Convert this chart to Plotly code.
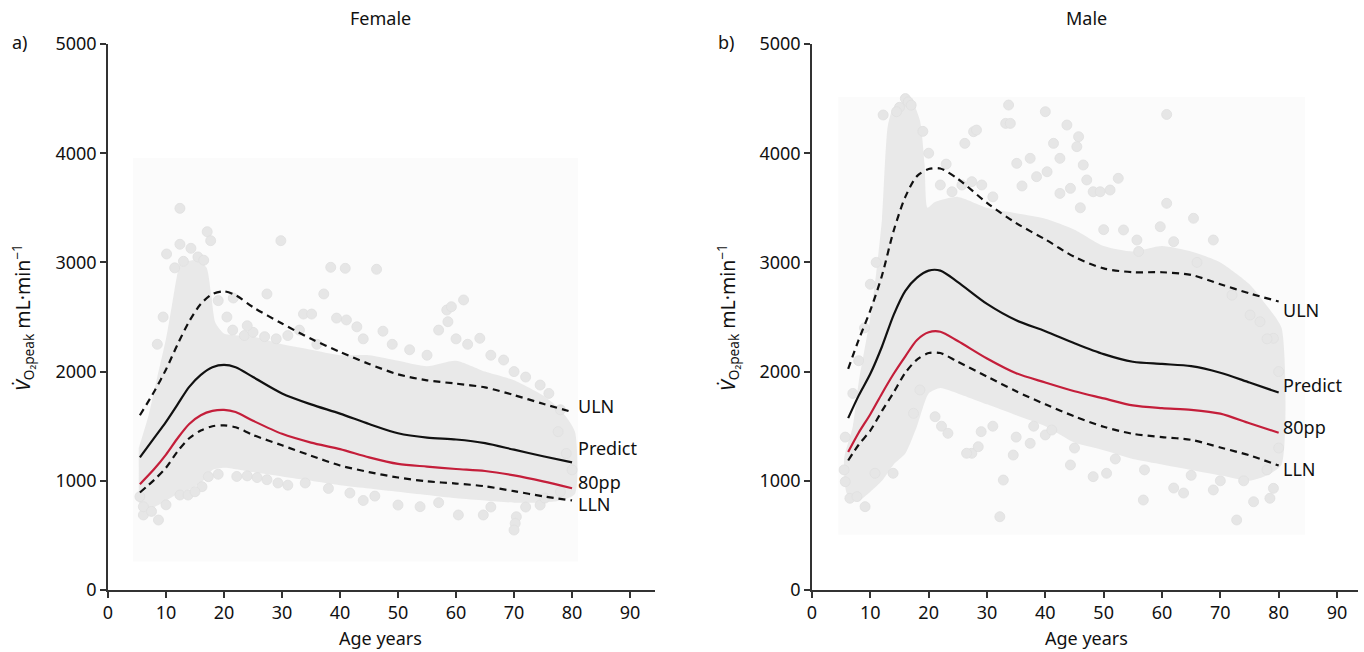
import plotly.graph_objects as go

# ---------------- reference curves ----------------
f_age = [5.5, 8, 10, 12, 14, 16, 18, 20, 22, 25, 30, 35, 40, 45, 50, 55, 60, 65, 70, 75, 80]
f_predict = [1215, 1395, 1540, 1700, 1860, 1970, 2040, 2062, 2040, 1950, 1800, 1700, 1615, 1520, 1435, 1395, 1378, 1345, 1285, 1225, 1168]
f_uln = [1600, 1820, 2020, 2250, 2460, 2620, 2710, 2735, 2700, 2590, 2440, 2300, 2180, 2070, 1975, 1920, 1890, 1855, 1785, 1705, 1630]
f_80pp = [969, 1110, 1240, 1390, 1520, 1600, 1640, 1650, 1630, 1550, 1430, 1350, 1290, 1215, 1155, 1130, 1108, 1090, 1050, 995, 932]
f_lln = [893, 1010, 1120, 1270, 1390, 1460, 1500, 1508, 1490, 1420, 1325, 1230, 1140, 1080, 1030, 995, 975, 950, 905, 858, 820]

m_age = [6.2, 8, 10, 12, 14, 16, 18, 20, 22, 25, 30, 35, 40, 45, 50, 55, 60, 65, 70, 75, 80]
m_predict = [1574, 1780, 1980, 2230, 2520, 2740, 2860, 2925, 2925, 2820, 2620, 2470, 2370, 2260, 2160, 2090, 2070, 2050, 1990, 1900, 1808]
m_uln = [2025, 2290, 2560, 2880, 3290, 3600, 3790, 3855, 3860, 3765, 3545, 3360, 3210, 3050, 2945, 2910, 2910, 2885, 2800, 2716, 2642]
m_80pp = [1264, 1440, 1610, 1800, 1980, 2140, 2290, 2360, 2365, 2280, 2120, 1985, 1900, 1820, 1755, 1690, 1665, 1650, 1615, 1527, 1440]
m_lln = [1186, 1330, 1460, 1640, 1810, 1990, 2110, 2170, 2170, 2090, 1955, 1820, 1700, 1590, 1495, 1430, 1400, 1375, 1305, 1233, 1140]

# ---------------- dense core of the measurements (outline) ----------------
f_core_age = [5.3, 7, 8.5, 10, 11, 11.8, 12.5, 15.5, 17, 17.8, 18.5, 20, 25, 30, 35, 40, 45, 50, 55, 60, 65, 70, 75, 78, 80.5,
              80.5, 78, 75, 70, 65, 60, 55, 50, 45, 40, 35, 30, 25, 20, 18, 16, 14, 12, 10, 8, 6, 5.3]
f_core_val = [1300, 1600, 1950, 2300, 2600, 2850, 2990, 3020, 2950, 2700, 2450, 2350, 2320, 2250, 2200, 2150, 2150, 2100, 2050, 2100, 2000, 1920, 1780, 1650, 1450,
              880, 820, 800, 800, 820, 840, 870, 900, 930, 960, 1000, 1040, 1080, 1120, 1100, 980, 920, 880, 820, 760, 730, 800]

m_core_age = [5.5, 7, 8, 10, 11, 12, 12.5, 13, 14, 17, 18.5, 19.3, 19.8, 21, 25, 30, 35, 40, 45, 50, 55, 60, 65, 70, 75, 78, 80.5,
              80.5, 78, 75, 70, 65, 60, 55, 50, 45, 40, 35, 30, 25, 22, 20, 18, 16, 14, 12, 10, 8, 6, 5.5]
m_core_val = [1200, 1500, 1900, 2500, 2900, 3400, 3900, 4250, 4420, 4480, 4300, 3900, 3500, 3550, 3600, 3500, 3450, 3400, 3300, 3150, 3100, 3150, 3100, 3000, 2800, 2600, 2400,
              1150, 1050, 1000, 1050, 1100, 1150, 1200, 1280, 1350, 1500, 1600, 1700, 1800, 1850, 1800, 1500, 1250, 1150, 1000, 900, 820, 880, 1200]

# ---------------- individual measurements outside the core ----------------
f_pt_age = [12.4, 17.1, 17.7, 12.4, 10.1, 14.3, 29.8, 38.4, 40.9, 46.3, 37.2, 27.4, 33.7, 35.1, 21.6, 39.4, 41.1, 42.9, 47.4,
            58.4, 59.2, 58.6, 61.3, 64.1, 68.2, 74.5, 77.6, 70.4, 70.2, 70.0, 64.7, 60.4, 50.0, 41.7, 53.8, 74.5, 75.3,
            6.1, 8.7, 6.1, 5.5, 12.4, 13.8, 16.2, 17.3, 22.2, 24.0, 25.7, 27.4, 29.3, 31.0, 21.5, 23.5, 25.0, 27.0, 29.0,
            11.5, 13.0, 15.5, 16.5, 9.5, 8.5, 19.0, 20.5, 24.0, 31.0, 33.0, 36.0, 44.0, 49.0, 52.0, 55.0, 57.0, 60.0, 62.0,
            66.0, 70.0, 72.0, 76.0, 78.0, 79.0, 80.0, 78.0, 72.0, 66.0, 57.0, 46.0, 38.0, 34.0, 19.0, 15.0, 10.0, 7.5, 44.0]
f_pt_val = [3495, 3281, 3199, 3166, 3077, 3129, 3199, 2955, 2946, 2937, 2711, 2711, 2527, 2527, 2674, 2490, 2473, 2410, 2370,
            2564, 2594, 2457, 2656, 2305, 2106, 1877, 1450, 671, 610, 549, 687, 687, 778, 888, 763, 778, 842,
            687, 641, 763, 855, 870, 870, 946, 1038, 1040, 1045, 1030, 1010, 980, 960, 2380, 2330, 2360, 2320, 2300,
            2950, 3010, 3050, 3020, 2500, 2250, 2650, 2500, 2420, 2330, 2380, 2250, 2300, 2250, 2200, 2150, 2380, 2300, 2250,
            2150, 2000, 1950, 1800, 1650, 1250, 1100, 900, 760, 760, 800, 860, 930, 980, 1060, 900, 780, 720, 820]

m_pt_age = [12.2, 16.0, 16.5, 17.0, 15.0, 14.5, 33.7, 40.0, 60.8, 33.2, 34.0, 43.7, 45.7, 27.7, 28.2, 26.2, 41.4, 45.4,
            46.5, 52.5, 42.5, 37.4, 35.1, 47.1, 51.1, 48.2, 49.4, 44.3, 38.5, 40.3, 42.5, 25.7, 27.4, 29.1, 22.0, 24.0,
            59.7, 53.4, 55.7, 60.8, 65.4, 68.8, 62.0, 76.8, 79.1, 75.1, 72.8, 56.8, 75.7, 78.5, 44.3, 48.2, 50.5, 62.0,
            63.7, 68.8, 79.1, 40.0, 41.1, 5.7, 6.5, 9.1, 7.7, 10.8, 13.9, 32.8, 32.2, 17.4, 18.5, 21.1, 22.2, 23.3, 27.4,
            28.5, 34.5, 37.4, 26.5, 29.0, 31.0, 35.0, 38.0, 45.0, 52.0, 57.0, 65.0, 70.0, 74.0, 78.0, 80.0, 80.0, 78.0,
            72.0, 66.0, 56.0, 50.0, 46.0, 36.0, 31.0, 23.0, 20.0, 19.0, 11.0, 10.0, 9.0, 8.0, 7.0, 5.5, 5.7]
m_pt_val = [4350, 4500, 4470, 4440, 4420, 4380, 4441, 4380, 4355, 4273, 4273, 4258, 4151, 4197, 4212, 4090, 4090, 4060,
            3892, 3770, 3953, 3953, 3907, 3755, 3663, 3647, 3647, 3678, 3785, 3830, 3632, 3709, 3739, 3709, 3709, 3647,
            3327, 3297, 3205, 3541, 3404, 3205, 3190, 2457, 2305, 2518, 641, 824, 808, 840, 1145, 1038, 1069, 934,
            888, 916, 931, 1420, 1465, 992, 840, 763, 855, 1069, 1069, 1007, 671, 1618, 1832, 1587, 1500, 1435, 1252,
            1312, 1236, 1343, 1252, 1450, 1500, 1400, 1500, 1300, 1200, 1100, 1050, 1000, 1000, 1100, 1300, 2000, 2300,
            2700, 3000, 3100, 3300, 3500, 3700, 3600, 3900, 4000, 4200, 3000, 2800, 2400, 2100, 1800, 1100, 1400]

# faint backdrop behind each point cloud: (age0, age1, val0, val1)
f_backdrop = (4.3, 81.0, 260, 3956)
m_backdrop = (4.5, 84.5, 505, 4515)

W, H = 1364, 652
FONT = "Noto Sans"
RED = "#c41e3a"
POINT = "#e6e6e6"

fig = go.Figure()

panels = [
    dict(xa="x", ya="y", age=f_age, pred=f_predict, uln=f_uln, pp=f_80pp, lln=f_lln,
         core_a=f_core_age, core_v=f_core_val, pa=f_pt_age, pv=f_pt_val, back=f_backdrop,
         shifts=dict(ULN=(4, 6), Predict=(4, 14), pp=(4, 6), LLN=(4, -4))),
    dict(xa="x2", ya="y2", age=m_age, pred=m_predict, uln=m_uln, pp=m_80pp, lln=m_lln,
         core_a=m_core_age, core_v=m_core_val, pa=m_pt_age, pv=m_pt_val, back=m_backdrop,
         shifts=dict(ULN=(2, -9), Predict=(2, 8), pp=(2, 6), LLN=(2, -3))),
]

for p in panels:
    a0, a1, v0, v1 = p["back"]
    fig.add_shape(type="rect", xref=p["xa"], yref=p["ya"], x0=a0, x1=a1, y0=v0, y1=v1,
                  fillcolor="#fbfbfb", line_width=0, layer="below")
    # dense part of the point cloud
    fig.add_trace(go.Scatter(x=p["core_a"], y=p["core_v"], xaxis=p["xa"], yaxis=p["ya"],
                             mode="lines", fill="toself", fillcolor="#e9e9e9",
                             line=dict(width=0, color="#e9e9e9", shape="spline", smoothing=0.6),
                             hoverinfo="skip", showlegend=False))
    # individual measurements
    fig.add_trace(go.Scatter(x=p["pa"], y=p["pv"], xaxis=p["xa"], yaxis=p["ya"], mode="markers",
                             marker=dict(size=10, color=POINT, line=dict(color="#dfdfdf", width=0.8)),
                             hoverinfo="skip", showlegend=False))
    # reference curves
    for vals, color, dash in [(p["uln"], "#111111", "7px,5px"), (p["lln"], "#111111", "7px,5px"),
                              (p["pp"], RED, "solid"), (p["pred"], "#111111", "solid")]:
        fig.add_trace(go.Scatter(x=p["age"], y=vals, xaxis=p["xa"], yaxis=p["ya"], mode="lines",
                                 line=dict(color=color, width=2.2, dash=dash, shape="spline", smoothing=0.8),
                                 showlegend=False))
    # curve labels at the right-hand ends
    for name, vals, key in [("ULN", p["uln"], "ULN"), ("Predict", p["pred"], "Predict"),
                            ("80pp", p["pp"], "pp"), ("LLN", p["lln"], "LLN")]:
        dx, dy = p["shifts"][key]
        fig.add_annotation(x=p["age"][-1], y=vals[-1], xref=p["xa"], yref=p["ya"], text=name,
                           showarrow=False, xanchor="left", yanchor="middle", xshift=dx, yshift=dy,
                           font=dict(family=FONT, size=18, color="#111"))


def px(x):
    return x / W


def py(y):
    return 1 - y / H


axis_common = dict(showgrid=False, zeroline=False, showline=True, linecolor="#333", linewidth=1.5,
                   ticks="outside", ticklen=6, tickwidth=1.5, tickcolor="#333", automargin=False,
                   tickfont=dict(family=FONT, size=18, color="#111"))

fig.update_layout(
    width=W, height=H, margin=dict(l=0, r=0, t=0, b=0, pad=0, autoexpand=False),
    paper_bgcolor="white", plot_bgcolor="rgba(0,0,0,0)",
    xaxis=dict(domain=[px(108), px(655)], range=[0, 94.3], tickvals=list(range(0, 91, 10)),
               anchor="y", **axis_common),
    yaxis=dict(domain=[py(590), py(44)], range=[0, 5000], tickvals=list(range(0, 5001, 1000)),
               anchor="x", **axis_common),
    xaxis2=dict(domain=[px(812), px(1358)], range=[0, 93.6], tickvals=list(range(0, 91, 10)),
                anchor="y2", **axis_common),
    yaxis2=dict(domain=[py(590), py(44)], range=[0, 5000], tickvals=list(range(0, 5001, 1000)),
                anchor="x2", **axis_common),
)

ytitle = "<i>V̇</i><sub>O₂peak</sub> mL·min<sup>−1</sup>"
texts = [
    ("Female", 381, 18, 0, 18), ("Male", 1086, 18, 0, 18),
    ("a)", 20, 42, 0, 18), ("b)", 726, 42, 0, 18),
    ("Age years", 381, 638, 0, 18), ("Age years", 1086, 638, 0, 18),
    (ytitle, 22, 318, -90, 19.5), (ytitle, 727, 318, -90, 19.5),
]
for t, x, y, ang, size in texts:
    fig.add_annotation(x=px(x), y=py(y), xref="paper", yref="paper", text=t, showarrow=False,
                       xanchor="center", yanchor="middle", textangle=ang,
                       font=dict(family=FONT, size=size, color="#111"))

fig.write_html(
    "out.html",
    post_script="document.body.style.margin='0';document.body.style.padding='0';"
                "document.documentElement.style.overflow='hidden';",
)
